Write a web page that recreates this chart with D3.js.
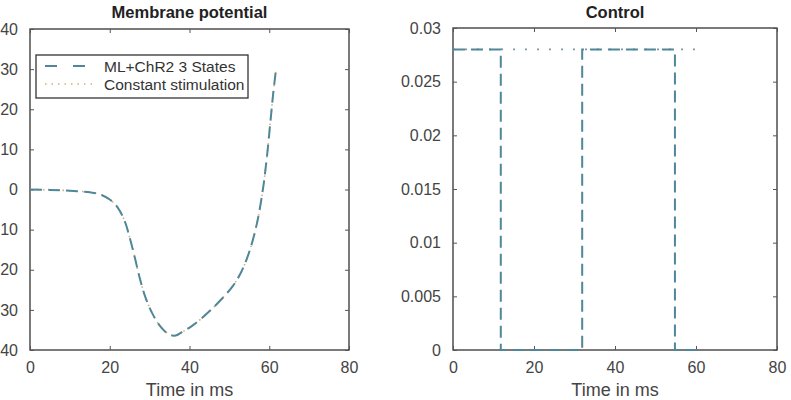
<!DOCTYPE html>
<html lang="en">
<head>
  <meta charset="UTF-8">
  <title>Membrane potential / Control</title>
  <script src="https://d3js.org/d3.v7.min.js"></script>
  <style>
    body {
      margin: 0;
      background: #fff;
      font-family: "Liberation Sans", Arial, sans-serif;
    }
    .tick text { fill: #444; }
  </style>
</head>
<body>
  <div id="chart"></div>

  <script>
    // membrane potential (mV) vs time (ms)
    const timeMs = [0, 5, 10, 15, 17.5, 20, 22, 23.8, 25, 26.3, 27.5, 29, 31, 33, 35, 36.5,
      38, 40.9, 45.9, 50.9, 53, 55, 56.9, 58.4, 59.4, 60.3, 61, 61.7];
    const vmChR2 = [0, -0.1, -0.3, -0.7, -1.2, -2.5, -4.5, -8, -12, -17, -22, -27, -31.5, -34.5, -36.2, -36.4,
      -35.6, -33.8, -29.5, -24, -20.5, -15.5, -8.5, 0, 8, 17, 24, 30];
    const vmConst = [0, -0.1, -0.3, -0.7, -1.2, -2.5, -4.5, -8, -12, -17, -22, -27, -31.5, -34.5, -36.1, -36.3,
      -35.6, -33.8, -29.5, -24, -20.5, -15.5, -8.5, 0, 8, 17, 24, 30];

    // control input (step values, held until next time)
    const ctrlTime = [0, 11.8, 31.9, 54.8, 61.5];
    const ctrlChR2 = [0.028, 0, 0.028, 0, 0];
    const constTime = [0, 61.5];
    const constVal = [0.028, 0.028];

    const xTicks = [0, 20, 40, 60, 80];
    const yTicksLeft = [-40, -30, -20, -10, 0, 10, 20, 30, 40];
    const yTicksRight = [0, 0.005, 0.01, 0.015, 0.02, 0.025, 0.03];
    const legendLabels = ["ML+ChR2 3 States", "Constant stimulation"];

    const width = 791, height = 400;
    const dashColor = "#4f8799";
    const dotColor = "#d6ad74";

    const svg = d3.select("#chart").append("svg")
      .attr("width", width)
      .attr("height", height);

    function panel(opts) {
      const x = d3.scaleLinear().domain([0, 80]).range([opts.x0, opts.x1]);
      const y = d3.scaleLinear().domain(opts.yDomain).range([opts.y1, opts.y0]);
      const g = svg.append("g");

      // box
      g.append("rect")
        .attr("x", opts.x0).attr("y", opts.y0)
        .attr("width", opts.x1 - opts.x0).attr("height", opts.y1 - opts.y0)
        .attr("fill", "none").attr("stroke", "#333").attr("stroke-width", 1.3);

      // inner ticks on all four sides
      const axes = [
        [d3.axisBottom(x).tickValues(xTicks).tickSize(-4).tickPadding(12), `translate(0,${opts.y1})`, true],
        [d3.axisTop(x).tickValues(xTicks).tickSize(-4), `translate(0,${opts.y0})`, false],
        [d3.axisLeft(y).tickValues(opts.yTicks).tickSize(-4).tickPadding(12).tickFormat(opts.fmt), `translate(${opts.x0},0)`, true],
        [d3.axisRight(y).tickValues(opts.yTicks).tickSize(-4), `translate(${opts.x1},0)`, false]
      ];
      axes.forEach(([ax, tr, labels]) => {
        const a = g.append("g").attr("transform", tr).call(ax);
        a.select(".domain").remove();
        a.selectAll(".tick line").attr("stroke", "#555");
        a.selectAll("text")
          .style("font-size", "16px")
          .style("font-family", "'Liberation Sans', Arial, sans-serif");
        if (!labels) a.selectAll("text").remove();
      });

      g.append("text")
        .attr("x", (opts.x0 + opts.x1) / 2).attr("y", 18)
        .attr("text-anchor", "middle")
        .style("font-size", "16.5px").style("font-weight", "bold").attr("fill", "#222")
        .text(opts.title);

      g.append("text")
        .attr("x", (opts.x0 + opts.x1) / 2).attr("y", 396)
        .attr("text-anchor", "middle")
        .style("font-size", "18px").attr("fill", "#444")
        .text("Time in ms");

      return { x, y, g };
    }

    // ---- left: membrane potential
    const L = panel({
      x0: 30, x1: 349, y0: 29, y1: 350,
      yDomain: [-40, 40], yTicks: yTicksLeft, fmt: d3.format("d"),
      title: "Membrane potential"
    });

    const lineL = d3.line().curve(d3.curveCatmullRom.alpha(0.5))
      .x(d => L.x(d[0])).y(d => L.y(d[1]));

    L.g.append("path")
      .datum(timeMs.map((t, i) => [t, vmConst[i]]))
      .attr("d", lineL).attr("fill", "none")
      .attr("stroke", dotColor).attr("stroke-width", 1.6)
      .attr("stroke-dasharray", "1.5,5");
    L.g.append("path")
      .datum(timeMs.map((t, i) => [t, vmChR2[i]]))
      .attr("d", lineL).attr("fill", "none")
      .attr("stroke", dashColor).attr("stroke-width", 2)
      .attr("stroke-dasharray", "12,6");

    // legend
    const lg = L.g.append("g");
    lg.append("rect")
      .attr("x", 36).attr("y", 55).attr("width", 212).attr("height", 43)
      .attr("fill", "#fff").attr("stroke", "#333").attr("stroke-width", 1.3);
    legendLabels.forEach((lab, i) => {
      const yy = 66 + i * 18;
      lg.append("line")
        .attr("x1", 45).attr("x2", 96).attr("y1", yy).attr("y2", yy)
        .attr("stroke", i === 0 ? dashColor : dotColor)
        .attr("stroke-width", i === 0 ? 2 : 1.6)
        .attr("stroke-dasharray", i === 0 ? "12,16" : "1.5,5");
      lg.append("text")
        .attr("x", 104).attr("y", yy + 6)
        .style("font-size", "15.5px").attr("fill", "#333")
        .text(lab);
    });

    // ---- right: control
    const R = panel({
      x0: 453, x1: 777, y0: 28, y1: 350,
      yDomain: [0, 0.03], yTicks: yTicksRight, fmt: d => d === 0 ? "0" : d3.format("")(+d.toFixed(3)),
      title: "Control"
    });

    const stepR = d3.line().curve(d3.curveStepAfter)
      .x(d => R.x(d[0])).y(d => R.y(d[1]));

    R.g.append("path")
      .datum(constTime.map((t, i) => [t, constVal[i]]))
      .attr("d", stepR).attr("fill", "none")
      .attr("stroke", "#7f97a3").attr("stroke-width", 1.8)
      .attr("stroke-dasharray", "2,10");
    R.g.append("path")
      .datum(ctrlTime.map((t, i) => [t, ctrlChR2[i]]))
      .attr("d", stepR).attr("fill", "none")
      .attr("stroke", dashColor).attr("stroke-width", 2)
      .attr("stroke-dasharray", "12,6");
  </script>
</body>
</html>
